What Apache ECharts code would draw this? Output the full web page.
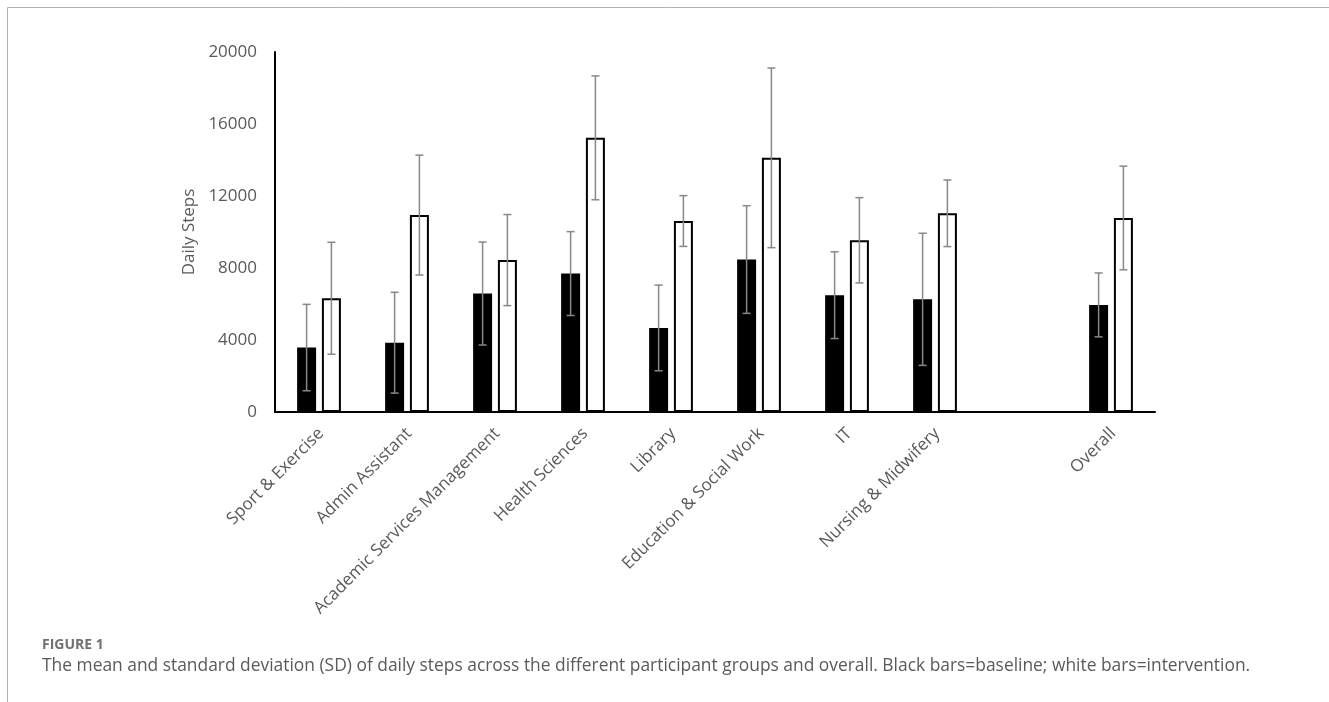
<!DOCTYPE html>
<html>
<head>
<meta charset="utf-8">
<script src="https://cdn.jsdelivr.net/npm/echarts@6/dist/echarts.min.js"></script>
<style>
html,body{margin:0;padding:0;background:#fff;}
#chart{width:1329px;height:702px;}
</style>
</head>
<body>
<div id="chart"></div>
<script>
const categories = ['Sport & Exercise','Admin Assistant','Academic Services Management','Health Sciences','Library','Education & Social Work','IT','Nursing & Midwifery','','Overall'];
const baselineMean = [3580, 3850, 6580, 7690, 4670, 8470, 6490, 6260, null, 5950];
const baselineSD = [2400, 2800, 2860, 2330, 2380, 2990, 2410, 3670, null, 1775];
const interventionMean = [6320, 10940, 8440, 15230, 10610, 14120, 9540, 11040, null, 10780];
const interventionSD = [3110, 3330, 2530, 3440, 1410, 4990, 2370, 1850, null, 2880];
const yTicks = [0, 4000, 8000, 12000, 16000, 20000];

const BAR_W = 19;
const GAP_PX = 5.8;
const OFFSET = (BAR_W + GAP_PX) / 2;

function errData(means, sds) {
  return means.map((m, i) => m == null ? [i, null, null] : [i, m, sds[i]]);
}
function errRender(sign) {
  return function (params, api) {
    const m = api.value(1), sd = api.value(2);
    if (m == null || isNaN(m)) return;
    const idx = api.value(0);
    const top = api.coord([idx, m + sd]);
    const bot = api.coord([idx, m - sd]);
    const x = top[0] + sign * OFFSET;
    const cap = 4;
    const st = {stroke: '#888888', lineWidth: 1.5};
    return {
      type: 'group',
      children: [
        {type: 'line', shape: {x1: x, y1: top[1], x2: x, y2: bot[1]}, style: st},
        {type: 'line', shape: {x1: x - cap, y1: top[1], x2: x + cap, y2: top[1]}, style: st},
        {type: 'line', shape: {x1: x - cap, y1: bot[1], x2: x + cap, y2: bot[1]}, style: st}
      ]
    };
  };
}

const chart = echarts.init(document.getElementById('chart'));
chart.setOption({
  animation: false,
  backgroundColor: '#fff',
  grid: {left: 275, right: 174, top: 52, bottom: 290, containLabel: false},
  xAxis: {
    type: 'category',
    data: categories,
    axisLine: {lineStyle: {color: '#000', width: 2}},
    axisTick: {show: false},
    axisLabel: {
      interval: 0, rotate: 45, margin: 21,
      color: '#595959', fontSize: 17, fontFamily: 'Open Sans',
      padding: [0, -3, 0, 0]
    }
  },
  yAxis: {
    type: 'value',
    min: 0, max: 20000, interval: 4000,
    name: 'Daily Steps',
    nameLocation: 'middle',
    nameGap: 76,
    nameTextStyle: {color: '#595959', fontSize: 17, fontFamily: 'Open Sans'},
    axisLine: {show: true, lineStyle: {color: '#000', width: 2}},
    axisTick: {show: false},
    splitLine: {show: false},
    axisLabel: {
      margin: 18, color: '#595959', fontSize: 17, fontFamily: 'Open Sans',
      formatter: v => yTicks.indexOf(v) >= 0 ? String(v) : ''
    }
  },
  series: [
    {
      type: 'bar', name: 'Baseline', data: baselineMean,
      barWidth: BAR_W, barGap: (GAP_PX / BAR_W * 100) + '%',
      itemStyle: {color: '#000'}
    },
    {
      type: 'bar', name: 'Intervention', data: interventionMean,
      barWidth: BAR_W,
      itemStyle: {color: '#fff', borderColor: '#000', borderWidth: 2}
    },
    {
      type: 'custom', name: 'Baseline SD', data: errData(baselineMean, baselineSD),
      renderItem: errRender(-1), z: 10, encode: {x: 0, y: 1}
    },
    {
      type: 'custom', name: 'Intervention SD', data: errData(interventionMean, interventionSD),
      renderItem: errRender(1), z: 10, encode: {x: 0, y: 1}
    }
  ],
  graphic: [
    {type: 'line', shape: {x1: 7.5, y1: 7.5, x2: 1329, y2: 7.5}, style: {stroke: '#b0b0b0', lineWidth: 1}},
    {type: 'line', shape: {x1: 7.5, y1: 7.5, x2: 7.5, y2: 702}, style: {stroke: '#b0b0b0', lineWidth: 1}},
    {type: 'text', left: 42, top: 638, style: {text: 'FIGURE 1', fill: '#707070', font: 'bold 14px "Open Sans"'}},
    {type: 'text', left: 42, top: 658, style: {text: 'The mean and standard deviation (SD) of daily steps across the different participant groups and overall. Black bars=baseline; white bars=intervention.', fill: '#5a5a5a', font: '17.4px "Open Sans"'}}
  ]
});
</script>
</body>
</html>
